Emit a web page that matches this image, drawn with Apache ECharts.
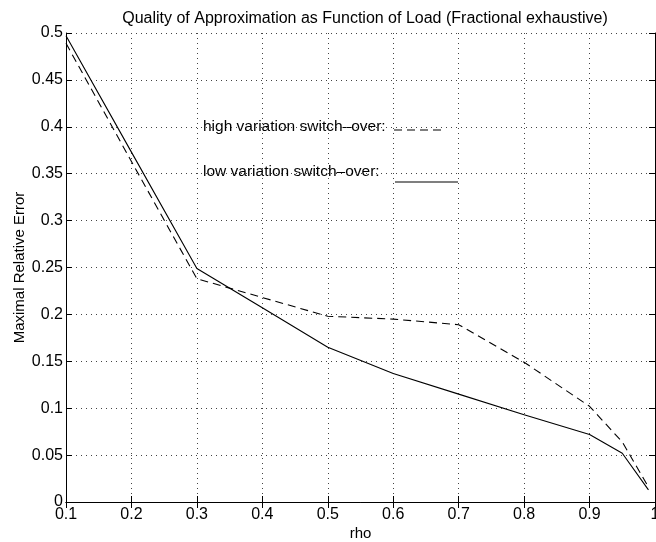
<!DOCTYPE html>
<html>
<head>
<meta charset="utf-8">
<script src="https://cdn.jsdelivr.net/npm/echarts@6/dist/echarts.min.js"></script>
<style>
html,body{margin:0;padding:0;background:#fff;}
#main{width:656px;height:542px;}
</style>
</head>
<body>
<div id="main"></div>
<script>
var rho = [0.1, 0.2, 0.3, 0.4, 0.5, 0.6, 0.7, 0.8, 0.9, 0.95, 0.99];
var highVariation = [0.489, 0.363, 0.238, 0.218, 0.198, 0.195, 0.189, 0.149, 0.102, 0.064, 0.016];
var lowVariation = [0.497, 0.373, 0.249, 0.207, 0.165, 0.137, 0.115, 0.093, 0.072, 0.052, 0.013];
var xTicks = ['0.1','0.2','0.3','0.4','0.5','0.6','0.7','0.8','0.9','1'];
var yTicks = ['0','0.05','0.1','0.15','0.2','0.25','0.3','0.35','0.4','0.45','0.5'];

var FONT = '"Liberation Sans", Arial, Helvetica, sans-serif';
function pairs(xs, ys){ return xs.map(function(x,i){ return [x, ys[i]]; }); }
function fmt(list, step, start){
  return function(v){ var i = Math.round((v - start)/step); return list[i] !== undefined ? list[i] : ''; };
}

var chart = echarts.init(document.getElementById('main'), null, {renderer:'canvas'});
var baseAxisLine = {show:true, lineStyle:{color:'#000', width:1}};
var option = {
  backgroundColor:'#fff',
  animation:false,
  title:{
    text:'Quality of Approximation as Function of Load (Fractional exhaustive)',
    left:360, textAlign:'center', top:6,
    textStyle:{fontFamily:FONT, fontSize:16, fontWeight:'normal', color:'#000'}
  },
  grid:{left:66, right:1, top:33, bottom:40, containLabel:false, outerBoundsMode:'none'},
  xAxis:[{
    type:'value', min:0.1, max:1, interval:0.1, position:'bottom',
    name:'rho', nameLocation:'middle', nameGap:24, nameMoveOverlap:false,
    nameTextStyle:{fontFamily:FONT, fontSize:15, color:'#000'},
    axisLine:baseAxisLine,
    axisTick:{show:true, inside:true, length:6, lineStyle:{color:'#000'}},
    axisLabel:{show:true, fontFamily:FONT, fontSize:16, color:'#000', margin:5, formatter:fmt(xTicks,0.1,0.1), showMaxLabel:true, hideOverlap:false},
    splitLine:{show:true, lineStyle:{color:'#444', type:[1,4], width:1}}
  },{
    type:'value', min:0.1, max:1, interval:0.1, position:'top',
    axisLine:baseAxisLine,
    axisTick:{show:true, inside:true, length:6, lineStyle:{color:'#000'}},
    axisLabel:{show:false}, splitLine:{show:false}
  }],
  yAxis:[{
    type:'value', min:0, max:0.5, interval:0.05, position:'left',
    name:'Maximal Relative Error', nameLocation:'middle', nameGap:39, nameRotate:90, nameMoveOverlap:false,
    nameTextStyle:{fontFamily:FONT, fontSize:15, color:'#000'},
    axisLine:baseAxisLine,
    axisTick:{show:true, inside:true, length:6, lineStyle:{color:'#000'}},
    axisLabel:{show:true, fontFamily:FONT, fontSize:16, color:'#000', margin:3, formatter:fmt(yTicks,0.05,0)},
    splitLine:{show:true, lineStyle:{color:'#444', type:[1,4], width:1}}
  },{
    type:'value', min:0, max:0.5, interval:0.05, position:'right',
    axisLine:baseAxisLine,
    axisTick:{show:true, inside:true, length:6, lineStyle:{color:'#000'}},
    axisLabel:{show:false}, splitLine:{show:false}
  }],
  series:[{
    name:'high variation switch-over', type:'line', xAxisIndex:0, yAxisIndex:0,
    data:pairs(rho, highVariation), symbol:'none',
    lineStyle:{color:'#000', width:1.1, type:[8,5]}
  },{
    name:'low variation switch-over', type:'line', xAxisIndex:0, yAxisIndex:0,
    data:pairs(rho, lowVariation), symbol:'none',
    lineStyle:{color:'#000', width:1.1, type:'solid'}
  }],
  graphic:[
    {type:'text', x:203, y:127, style:{text:'high variation switch\u2013over:', fontSize:15.5, fontFamily:FONT, fill:'#000', verticalAlign:'middle', align:'left'}},
    {type:'line', shape:{x1:394, y1:130, x2:443, y2:130}, style:{stroke:'#000', lineWidth:1.1, lineDash:[8,5]}},
    {type:'text', x:203, y:172, style:{text:'low variation switch\u2013over:', fontSize:15.5, fontFamily:FONT, fill:'#000', verticalAlign:'middle', align:'left'}},
    {type:'line', shape:{x1:395, y1:182, x2:458, y2:182}, style:{stroke:'#000', lineWidth:1.1}}
  ]
};
chart.setOption(option);
</script>
</body>
</html>
